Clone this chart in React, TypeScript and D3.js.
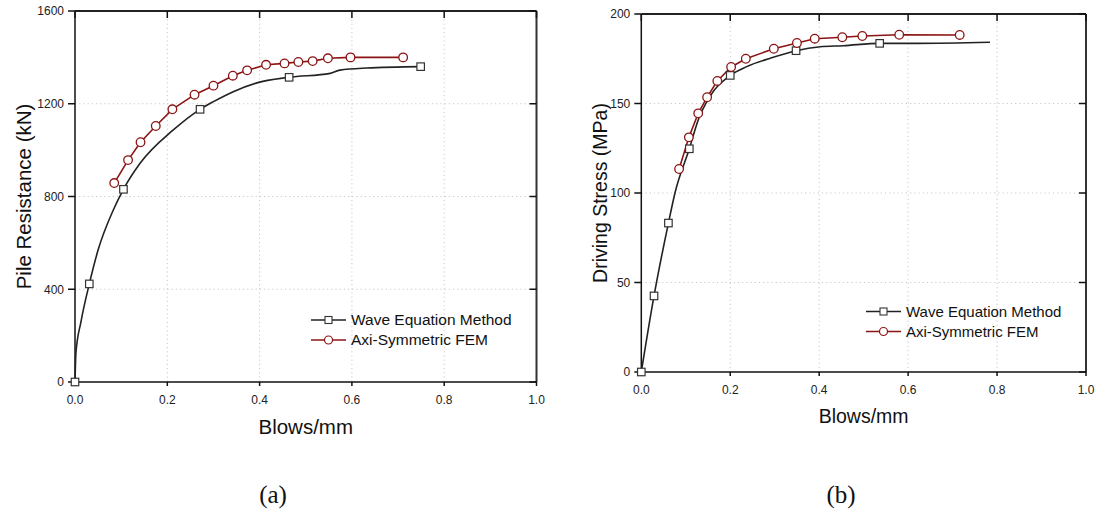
import React from "react";
import * as d3 from "d3";

// ---------- Data ----------
const xTicks = [0, 0.2, 0.4, 0.6, 0.8, 1.0];

// Panel (a): Pile Resistance (kN)
const aYTicks = [0, 400, 800, 1200, 1600];
const aWaveX = [0, 0.002, 0.013, 0.031, 0.05, 0.083, 0.105, 0.141, 0.213, 0.271, 0.3, 0.343, 0.394, 0.464, 0.553, 0.574, 0.632, 0.749];
const aWaveY = [0, 125, 260, 423, 569, 742, 831, 943, 1087, 1176, 1209, 1252, 1290, 1314, 1331, 1345, 1354, 1360];
const aWaveMarkers = [0, 3, 6, 9, 13, 17];
const aFemX = [0.085, 0.115, 0.142, 0.175, 0.211, 0.259, 0.3, 0.342, 0.373, 0.414, 0.454, 0.484, 0.515, 0.548, 0.597, 0.711];
const aFemY = [858, 957, 1034, 1104, 1176, 1239, 1278, 1321, 1344, 1368, 1374, 1380, 1384, 1396, 1400, 1400];

// Panel (b): Driving Stress (MPa)
const bYTicks = [0, 50, 100, 150, 200];
const bWaveX = [0, 0.0286, 0.061, 0.0757, 0.108, 0.128, 0.154, 0.2, 0.237, 0.289, 0.348, 0.402, 0.454, 0.536, 0.62, 0.784];
const bWaveY = [0, 42.5, 83.2, 100, 124.7, 140.8, 153.8, 165.7, 170.6, 175.2, 179.5, 181.7, 182.3, 183.6, 183.6, 184.2];
const bWaveMarkers = [0, 1, 2, 4, 7, 10, 13];
const bFemX = [0.085, 0.107, 0.128, 0.148, 0.171, 0.202, 0.235, 0.298, 0.35, 0.39, 0.452, 0.497, 0.58, 0.716];
const bFemY = [113.4, 131.1, 144.5, 153.5, 162.6, 170.4, 175.0, 180.6, 183.8, 186.2, 187.0, 187.7, 188.4, 188.3];

const seriesNames = ["Wave Equation Method", "Axi-Symmetric FEM"];

const BLACK = "#222";
const RED = "#8B1414";
const SANS = "Arial, 'Liberation Sans', sans-serif";
const SERIF = "'Times New Roman', 'Liberation Serif', serif";

type PanelProps = {
  x0: number; x1: number; yTop: number; yBot: number;
  yMax: number; yTicks: number[];
  waveX: number[]; waveY: number[]; waveMarkers: number[];
  femX: number[]; femY: number[];
  yTitle: string; titleSize: number; legendSize: number;
  yTitleX: number; xTitleY: number;
  legendX: number; legendY: number; label: string; labelX: number;
};

function Panel(p: PanelProps) {
  const x = d3.scaleLinear().domain([0, 1]).range([p.x0, p.x1]);
  const y = d3.scaleLinear().domain([0, p.yMax]).range([p.yBot, p.yTop]);
  const wave = p.waveX.map((v, i) => [v, p.waveY[i]] as [number, number]);
  const fem = p.femX.map((v, i) => [v, p.femY[i]] as [number, number]);
  const waveLine = d3.line<[number, number]>().x(d => x(d[0])).y(d => y(d[1])).curve(d3.curveMonotoneX);
  const femLine = d3.line<[number, number]>().x(d => x(d[0])).y(d => y(d[1]));
  const grid = "#c8c8c8";
  const sq = 7.5;
  const cy = (p.yTop + p.yBot) / 2;
  return (
    <g>
      {/* grid */}
      {xTicks.slice(1, -1).map(t => (
        <line key={"gx" + t} x1={x(t)} x2={x(t)} y1={p.yTop} y2={p.yBot} stroke={grid} strokeWidth={1} strokeDasharray="1.2,3" />
      ))}
      {p.yTicks.slice(1, -1).map(t => (
        <line key={"gy" + t} x1={p.x0} x2={p.x1} y1={y(t)} y2={y(t)} stroke={grid} strokeWidth={1} strokeDasharray="1.2,3" />
      ))}
      {/* frame */}
      <line x1={p.x0} x2={p.x1} y1={p.yTop} y2={p.yTop} stroke="#222" strokeWidth={2} />
      <line x1={p.x1} x2={p.x1} y1={p.yTop} y2={p.yBot} stroke="#333" strokeWidth={2} />
      <line x1={p.x0} x2={p.x1} y1={p.yBot} y2={p.yBot} stroke="#111" strokeWidth={1.5} />
      <line x1={p.x0} x2={p.x0} y1={p.yTop} y2={p.yBot} stroke="#111" strokeWidth={1.5} />
      {/* x ticks */}
      {xTicks.map(t => (
        <g key={"xt" + t}>
          <line x1={x(t)} x2={x(t)} y1={p.yBot} y2={p.yBot + 4} stroke="#111" strokeWidth={1.5} />
          <line x1={x(t)} x2={x(t)} y1={p.yTop} y2={p.yTop + 7} stroke="#111" strokeWidth={1.5} />
          <text x={x(t)} y={p.yBot + 22} textAnchor="middle" fontFamily={SANS} fontSize={12} fill="#222">{t.toFixed(1)}</text>
        </g>
      ))}
      {/* y ticks */}
      {p.yTicks.map(t => (
        <g key={"yt" + t}>
          <line x1={p.x0 - 7} x2={p.x0} y1={y(t)} y2={y(t)} stroke="#111" strokeWidth={1.5} />
          <line x1={p.x1 - 7} x2={p.x1} y1={y(t)} y2={y(t)} stroke="#111" strokeWidth={1.5} />
          <text x={p.x0 - 11} y={y(t) + 4.3} textAnchor="end" fontFamily={SANS} fontSize={12} fill="#222">{t}</text>
        </g>
      ))}
      {/* titles */}
      <text x={(p.x0 + p.x1) / 2} y={p.xTitleY} textAnchor="middle" fontFamily={SANS} fontSize={p.titleSize} fill="#111">Blows/mm</text>
      <text transform={`translate(${p.yTitleX},${cy}) rotate(-90)`} textAnchor="middle" fontFamily={SANS} fontSize={p.titleSize} fill="#111">{p.yTitle}</text>
      <text x={p.labelX} y={503} textAnchor="middle" fontFamily={SERIF} fontSize={25} fill="#111">{p.label}</text>
      {/* series */}
      <path d={waveLine(wave) || ""} fill="none" stroke={BLACK} strokeWidth={1.6} />
      <path d={femLine(fem) || ""} fill="none" stroke={RED} strokeWidth={1.6} />
      {p.waveMarkers.map(i => (
        <rect key={"wm" + i} x={x(p.waveX[i]) - sq / 2} y={y(p.waveY[i]) - sq / 2} width={sq} height={sq} fill="#fff" stroke="#333" strokeWidth={1.2} />
      ))}
      {fem.map((d, i) => (
        <circle key={"fm" + i} cx={x(d[0])} cy={y(d[1])} r={4.3} fill="#fff" stroke={RED} strokeWidth={1.3} />
      ))}
      {/* legend */}
      <g>
        <line x1={p.legendX} x2={p.legendX + 35} y1={p.legendY} y2={p.legendY} stroke={BLACK} strokeWidth={1.6} />
        <rect x={p.legendX + 17.5 - 3.5} y={p.legendY - 3.5} width={7} height={7} fill="#fff" stroke="#333" strokeWidth={1.1} />
        <text x={p.legendX + 40} y={p.legendY + 5.3} fontFamily={SANS} fontSize={p.legendSize} fill="#111">{seriesNames[0]}</text>
        <line x1={p.legendX} x2={p.legendX + 35} y1={p.legendY + 20} y2={p.legendY + 20} stroke={RED} strokeWidth={1.6} />
        <circle cx={p.legendX + 17.5} cy={p.legendY + 20} r={4} fill="#fff" stroke={RED} strokeWidth={1.2} />
        <text x={p.legendX + 40} y={p.legendY + 25.3} fontFamily={SANS} fontSize={p.legendSize} fill="#111">{seriesNames[1]}</text>
      </g>
    </g>
  );
}

export default function App() {
  return (
    <svg width={1101} height={514} style={{ position: "absolute", left: 0, top: 0, background: "#fff" }}>
      <rect x={0} y={0} width={1101} height={514} fill="#fff" />
      <Panel x0={75} x1={536.5} yTop={11} yBot={382} yMax={1600} yTicks={aYTicks}
        waveX={aWaveX} waveY={aWaveY} waveMarkers={aWaveMarkers} femX={aFemX} femY={aFemY}
        yTitle="Pile Resistance (kN)" titleSize={20.5} legendSize={15.5}
        yTitleX={31} xTitleY={434} legendX={311} legendY={320} label="(a)" labelX={273} />
      <Panel x0={641.3} x1={1086} yTop={14} yBot={372} yMax={200} yTicks={bYTicks}
        waveX={bWaveX} waveY={bWaveY} waveMarkers={bWaveMarkers} femX={bFemX} femY={bFemY}
        yTitle="Driving Stress (MPa)" titleSize={19.5} legendSize={15}
        yTitleX={607} xTitleY={422.5} legendX={866} legendY={311.5} label="(b)" labelX={841} />
    </svg>
  );
}
